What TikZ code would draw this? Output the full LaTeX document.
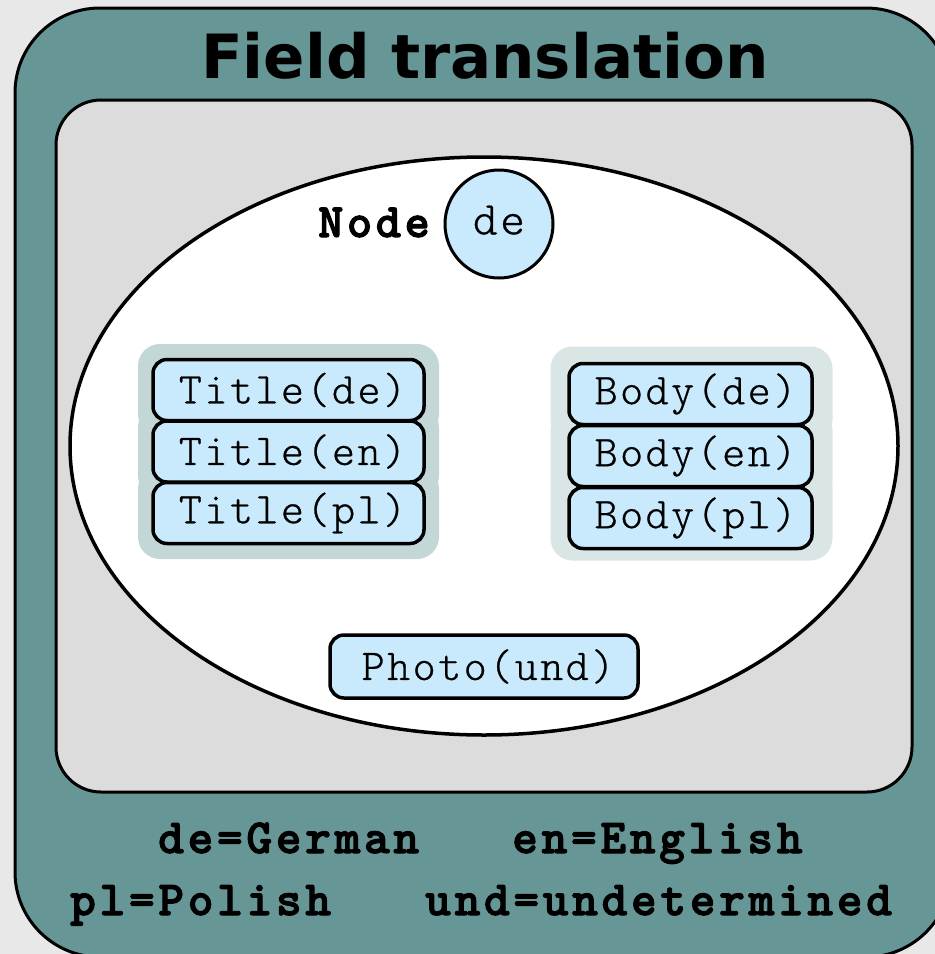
\documentclass[tikz,border=0pt]{standalone}
\usepackage{fontspec}
\setmainfont{DejaVu Sans}
\newfontfamily\courfont[FakeBold=0.6, LetterSpace=5.5]{lmmonolt10-regular.otf}
\newfontfamily\courbold[FakeBold=2.2, LetterSpace=7.5]{lmmonolt10-bold.otf}
\usetikzlibrary{shapes.geometric}
\definecolor{bgcol}{HTML}{E8E8E8}
\definecolor{tealframe}{HTML}{669796}
\definecolor{innergray}{HTML}{DCDCDC}
\definecolor{fieldblue}{HTML}{C8EAFC}
\definecolor{titleglow}{HTML}{C3D7D6}
\definecolor{bodyglow}{HTML}{D9E6E5}
\tikzset{
  fieldbox/.style={draw=black, line width=3.5pt, fill=fieldblue, rounded corners=14pt,
    inner sep=0pt, font=\courfont\fontsize{44}{44}\selectfont},
  titlefield/.style={fieldbox, minimum width=271pt, minimum height=61pt},
  bodyfield/.style={fieldbox, minimum width=243pt, minimum height=61pt},
  titlehalo/.style={fill=titleglow, rounded corners=22pt, inner sep=0pt,
    minimum width=301pt, minimum height=92pt},
  bodyhalo/.style={fill=bodyglow, rounded corners=22pt, inner sep=0pt,
    minimum width=282pt, minimum height=95pt},
  legend/.style={inner sep=0pt, anchor=base west, font=\courbold\fontsize{49}{49}\selectfont},
}
\begin{document}
\begin{tikzpicture}[x=1pt,y=-1pt]
\useasboundingbox (0,0) rectangle (935,954);
\fill[bgcol] (0,0) rectangle (935,954);
\clip (0,0) rectangle (935,954);
% outer frame
\draw[fill=tealframe, line width=3pt, rounded corners=85pt] (15,8) rectangle (951,957);
% inner panel
\draw[fill=innergray, line width=3pt, rounded corners=45pt] (56,100) rectangle (912,792);
% node ellipse
\node (nodeellipse) [ellipse, draw=black, fill=white, line width=3.5pt, inner sep=0pt,
  minimum width=828pt, minimum height=578pt] at (484,446) {};
% title
\node (title) [inner sep=0pt, anchor=base, font=\bfseries\fontsize{61}{61}\selectfont] at (485,78) {Field translation};
% node label + language circle
\node (nodelbl) [inner sep=0pt, anchor=base west, font=\courbold\fontsize{48}{48}\selectfont] at (318,237) {Node};
\node (langde) [circle, draw=black, fill=fieldblue, line width=3pt, minimum size=108pt, inner sep=0pt,
  text depth=8pt, font=\courfont\fontsize{47}{47}\selectfont] at (499,224) {de};
% halos
\node (th1) [titlehalo] at (288.5,390) {};
\node (th2) [titlehalo] at (288.5,451.5) {};
\node (th3) [titlehalo] at (288.5,513) {};
\node (bh1) [bodyhalo] at (691.5,394) {};
\node (bh2) [bodyhalo] at (691.5,456) {};
\node (bh3) [bodyhalo] at (691.5,513) {};
% fields
\node (titlede) [titlefield] at (288.5,390) {\hspace*{8pt}Title(de)};
\node (titleen) [titlefield] at (288.5,451.5) {\hspace*{8pt}Title(en)};
\node (titlepl) [titlefield] at (288.5,513) {\hspace*{8pt}Title(pl)};
\node (bodyde) [bodyfield] at (690.5,394) {\hspace*{10pt}Body(de)};
\node (bodyen) [bodyfield] at (690.5,456) {\hspace*{10pt}Body(en)};
\node (bodypl) [bodyfield] at (690.5,518) {\hspace*{10pt}Body(pl)};
\node (photo) [fieldbox, minimum width=308pt, minimum height=63pt] at (484,666.5) {\hspace*{8pt}Photo(und)};
% legend
\node (lgde) [legend] at (158,853) {de=German};
\node (lgen) [legend] at (512,853) {en=English};
\node (lgpl) [legend] at (70,915) {pl=Polish};
\node (lgund) [legend] at (425,915) {und=undetermined};
\end{tikzpicture}
\end{document}
